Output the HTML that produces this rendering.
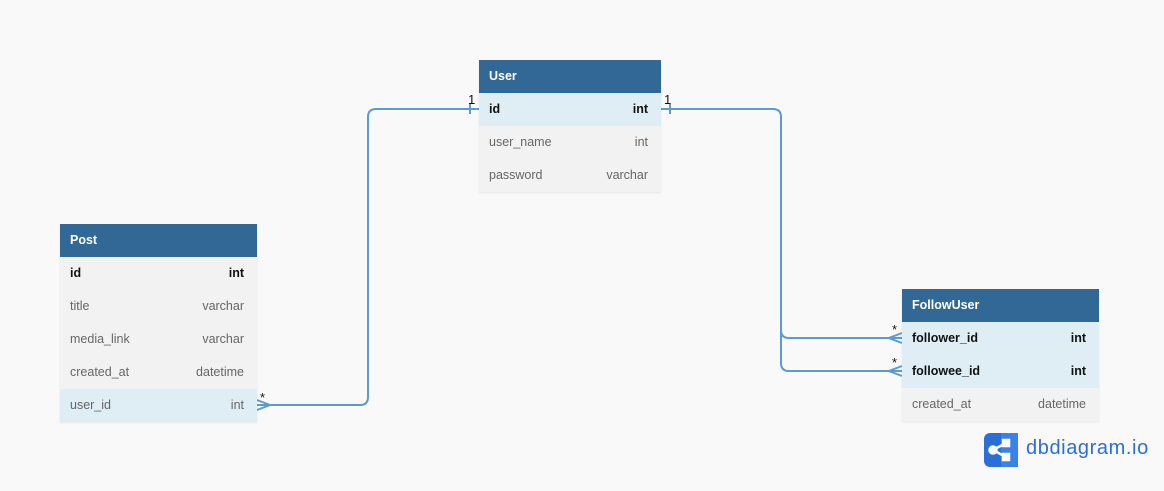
<!DOCTYPE html>
<html><head><style>
body{margin:0;width:1164px;height:491px;background:#f9f9f9;font-family:"Liberation Sans",Arial,sans-serif;position:relative;overflow:hidden}
.t{position:absolute;box-shadow:0 1px 2px rgba(0,0,0,.08)}
.h{background:#316896;color:#fff;font-weight:bold;font-size:12.5px;height:33px;line-height:33px;padding-left:10px}
.r{height:33px;line-height:33px;font-size:12.5px;padding:0 13px 0 10px;display:flex;justify-content:space-between;background:#f2f2f2;color:#666}
.r.b{font-weight:bold;color:#111}
.r.hl{background:#dfedf5}
.lbl{position:absolute;font-size:13px;color:#111}
</style></head><body>
<svg width="1164" height="491" style="position:absolute;left:0;top:0">
<g fill="none" stroke="#5b9bd1" stroke-width="2">
<path d="M257 405 H360 Q368 405 368 397 V117 Q368 109 376 109 H479"/>
<path d="M661 109 H773 Q781 109 781 117 V330 Q781 338 789 338 H902"/>
<path d="M781 330 V363 Q781 371 789 371 H902"/>
<path d="M470 104 V114 M670 104 V114"/>
<path d="M257 400 L270 405 L257 410"/>
<path d="M902 333 L889 338 L902 343 M902 366 L889 371 L902 376"/>
</g>
</svg>
<div class="lbl" style="left:468px;top:92px">1</div>
<div class="lbl" style="left:664px;top:92px">1</div>
<div class="lbl" style="left:260px;top:390px">*</div>
<div class="lbl" style="left:892px;top:322px">*</div>
<div class="lbl" style="left:892px;top:355px">*</div>

<div class="t" style="left:479px;top:60px;width:182px">
<div class="h">User</div>
<div class="r b hl"><span>id</span><span>int</span></div>
<div class="r"><span>user_name</span><span>int</span></div>
<div class="r"><span>password</span><span>varchar</span></div>
</div>
<div class="t" style="left:60px;top:224px;width:197px">
<div class="h">Post</div>
<div class="r b"><span>id</span><span>int</span></div>
<div class="r"><span>title</span><span>varchar</span></div>
<div class="r"><span>media_link</span><span>varchar</span></div>
<div class="r"><span>created_at</span><span>datetime</span></div>
<div class="r hl"><span>user_id</span><span>int</span></div>
</div>
<div class="t" style="left:902px;top:289px;width:197px">
<div class="h">FollowUser</div>
<div class="r b hl"><span>follower_id</span><span>int</span></div>
<div class="r b hl"><span>followee_id</span><span>int</span></div>
<div class="r"><span>created_at</span><span>datetime</span></div>
</div>
<svg width="34" height="34" style="position:absolute;left:984px;top:433px" viewBox="0 0 34 34">
<rect width="34" height="34" rx="6" fill="#2c6ed8"/>
<rect x="17" width="17" height="34" fill="#3b82e8"/>
<g stroke="#fff" stroke-width="2.5" fill="#fff"><path d="M9 17 L22 10 M9 17 L22 24" fill="none"/><circle cx="9" cy="17" r="3.5"/><rect x="19" y="7" width="6" height="6"/><rect x="19" y="21" width="6" height="6"/></g>
</svg>
<div style="position:absolute;left:1026px;top:437px;font-size:20px;letter-spacing:0.6px;color:#2c6ed8">dbdiagram.io</div>
</body></html>
